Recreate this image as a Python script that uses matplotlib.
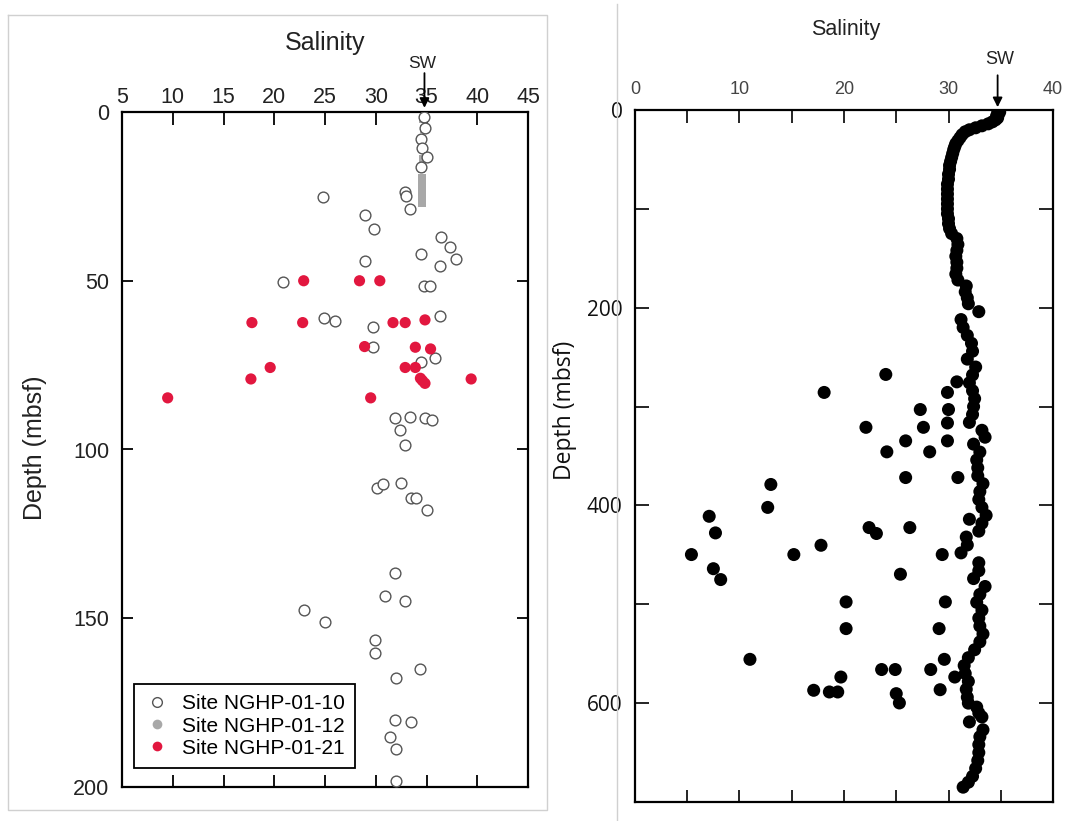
import matplotlib
matplotlib.use("Agg")
import matplotlib.pyplot as plt
from matplotlib.lines import Line2D

# ---------------- Left panel data (salinity, depth mbsf) ----------------
site10_sal = [34.8, 34.9, 34.5, 34.6, 35.0, 34.5, 24.8, 32.9, 33.0, 33.4, 28.9, 29.8,
              36.4, 37.3, 37.9, 36.3, 28.9, 34.5, 20.9, 34.8, 35.3, 36.3, 24.9, 26.0,
              29.7, 29.7, 34.5, 35.8, 31.9, 33.4, 34.85, 35.5, 32.4, 32.9, 32.5, 30.1,
              30.7, 33.5, 34.0, 35.0, 31.9, 30.9, 32.9, 22.9, 25.0, 29.9, 29.9, 34.4,
              32.0, 31.9, 33.5, 31.4, 32.0, 32.0]
site10_depth = [1.4, 4.8, 8.1, 10.6, 13.2, 16.4, 25.1, 23.6, 25.0, 28.8, 30.5, 34.7,
                37.0, 40.0, 43.6, 45.5, 44.2, 42.0, 50.4, 51.6, 51.6, 60.4, 61.1, 61.8,
                63.6, 69.5, 74.0, 72.8, 90.7, 90.3, 90.7, 91.3, 94.2, 98.7, 110.0, 111.5,
                110.3, 114.5, 114.5, 118.0, 136.7, 143.3, 145.0, 147.6, 151.2, 156.4, 160.4, 165.1,
                167.8, 180.1, 180.6, 185.3, 188.7, 198.2]

site12_sal = [34.6, 34.7, 34.6, 34.5, 34.6, 34.5, 34.55, 34.55, 34.55, 34.55, 34.55, 34.55, 34.5]
site12_depth = [2.0, 5.0, 8.0, 11.0, 14.0, 17.0, 19.5, 21.0, 22.5, 24.0, 25.5, 27.0, 42.3]

site21_sal = [22.9, 28.4, 30.4, 17.8, 22.8, 31.7, 32.9, 34.85, 28.9, 33.9, 35.4, 19.6,
              32.9, 33.9, 34.4, 34.85, 34.6, 17.7, 39.4, 9.5, 29.5]
site21_depth = [50.0, 50.0, 50.0, 62.4, 62.4, 62.4, 62.4, 61.6, 69.5, 69.7, 70.2, 75.7,
                75.7, 75.7, 78.9, 80.4, 79.6, 79.1, 79.1, 84.7, 84.7]

left_xticks = [5, 10, 15, 20, 25, 30, 35, 40, 45]
left_yticks = [0, 50, 100, 150, 200]
legend_labels = ["Site NGHP-01-10", "Site NGHP-01-12", "Site NGHP-01-21"]

# ---------------- Right panel data ----------------
prof_depth = [0, 2, 4, 6, 8, 10, 12, 14, 16, 18, 20, 22, 25, 28, 31, 34, 37, 40, 44, 48,
              52, 56, 60, 65, 70, 75, 80, 85, 90, 95, 100, 105, 110, 115, 120, 125, 130,
              136, 142, 148, 154, 160, 166, 172, 178, 184, 190, 196, 204, 212, 220, 228,
              236, 244, 252, 260, 268, 276, 284, 292, 300, 308, 316, 324, 331, 338, 346,
              354, 362, 370, 378, 386, 394, 402, 410, 414, 418, 426, 432, 440, 448, 458,
              466, 474, 482, 490, 498, 506, 514, 522, 530, 538, 546, 554, 562, 570, 578,
              586, 594, 600, 604, 610, 614, 619, 627, 634, 642, 650, 658, 666, 674, 680, 685]
prof_sal = [34.7, 34.9, 34.8, 34.6, 34.7, 34.5, 34.2, 33.8, 33.2, 32.6, 32.0, 31.6, 31.3,
            31.1, 30.9, 30.7, 30.6, 30.5, 30.4, 30.3, 30.2, 30.1, 30.1, 30.0, 30.0, 29.9,
            29.9, 29.9, 29.9, 29.9, 29.9, 29.9, 30.0, 30.0, 30.1, 30.3, 30.8, 30.9, 30.8,
            30.7, 30.8, 30.8, 30.7, 30.9, 31.7, 31.6, 31.8, 31.9, 32.9, 31.2, 31.4, 31.8,
            32.2, 32.3, 31.8, 32.6, 32.3, 32.0, 32.3, 32.5, 32.4, 32.3, 32.0, 33.2, 33.5,
            32.4, 33.0, 32.7, 32.8, 32.8, 33.3, 33.0, 32.9, 33.2, 33.6, 32.0, 33.2, 32.9,
            31.7, 31.8, 31.2, 32.9, 32.9, 32.4, 33.5, 33.0, 32.7, 33.2, 32.9, 33.0, 33.3,
            33.0, 32.5, 31.9, 31.5, 31.6, 31.9, 31.7, 31.8, 31.9, 32.7, 32.9, 33.2, 32.0,
            33.3, 33.0, 32.9, 32.9, 32.8, 32.6, 32.3, 31.9, 31.4]

scat_sal = [24.0, 18.1, 29.9, 30.8, 27.3, 30.0, 22.1, 27.6, 29.9, 25.9, 29.9, 24.1, 28.2,
            25.9, 30.9, 13.0, 12.7, 7.1, 7.7, 22.4, 23.1, 26.3, 17.8, 5.4, 15.2, 29.4, 7.5,
            8.2, 25.4, 20.2, 29.7, 20.2, 29.1, 11.0, 29.6, 23.6, 24.9, 28.3, 19.7, 30.6,
            17.1, 18.6, 19.4, 29.2, 25.0, 25.3]
scat_depth = [267.5, 285.7, 285.7, 275.0, 303.0, 303.0, 321.0, 321.0, 316.6, 334.7, 334.7,
              345.8, 345.8, 371.8, 371.8, 378.8, 402.0, 411.0, 427.8, 422.4, 428.4, 422.4,
              440.3, 449.7, 449.7, 449.7, 464.0, 475.0, 469.6, 497.6, 497.6, 524.6, 524.6,
              555.7, 555.7, 566.0, 566.0, 566.0, 573.6, 573.6, 587.0, 588.7, 588.7, 586.4,
              590.4, 599.8]

right_xticks = [0, 10, 20, 30, 40]
right_xminor = [5, 15, 25, 35]
right_yticks = [0, 200, 400, 600]
right_yminor = [100, 300, 500, 700]

SW_LEFT = 34.8
SW_RIGHT = 34.7

W, H = 1065, 821
ARIAL = "Liberation Sans"

fig = plt.figure(figsize=(W / 100, H / 100), dpi=100)
fig.patch.set_facecolor("white")


def fx(px):
    return px / W


def fy(py):
    return 1 - py / H


# grey frame artefacts
fig.add_artist(Line2D([fx(8), fx(547), fx(547), fx(8), fx(8)],
                      [fy(15), fy(15), fy(810), fy(810), fy(15)],
                      color="#d0d0d0", lw=1.0))
fig.add_artist(Line2D([fx(617), fx(617)], [fy(4), fy(821)], color="#d0d0d0", lw=1.0))

# ---------------- Left panel ----------------
ax1 = fig.add_axes([fx(122), fy(787), (528 - 122) / W, (787 - 112) / H])
ax1.scatter(site10_sal, site10_depth, s=60, facecolors="white", edgecolors="#555555",
            linewidths=1.0, zorder=3)
ax1.scatter(site12_sal, site12_depth, s=30, marker="s", color="#a8a8a8", edgecolors="none",
            zorder=2)
ax1.scatter(site21_sal, site21_depth, s=65, color="#e2173f", edgecolors="none", zorder=4)

ax1.set_xlim(5, 45)
ax1.set_ylim(200, 0)
ax1.set_xticks(left_xticks)
ax1.set_yticks(left_yticks)
ax1.xaxis.set_ticks_position("both")
ax1.yaxis.set_ticks_position("both")
ax1.tick_params(axis="x", direction="in", length=9, width=1.3, labeltop=True,
                labelbottom=False, pad=3, labelsize=15.5)
ax1.tick_params(axis="y", direction="in", length=8, width=1.3, pad=9, labelsize=15.5)
for lab in ax1.get_xticklabels() + ax1.get_yticklabels():
    lab.set_fontfamily(ARIAL)
    lab.set_color("#222222")
for sp in ax1.spines.values():
    sp.set_linewidth(1.6)

fig.text(fx(325), fy(43), "Salinity", ha="center", va="center", fontsize=18,
         family=ARIAL, color="#222222")
fig.text(fx(422), fy(64), "SW", ha="center", va="center", fontsize=12.5,
         family=ARIAL, color="#222222")
ax1.annotate("", xy=(SW_LEFT, 1.0), xycoords=ax1.get_xaxis_transform(),
             xytext=(0, 28), textcoords="offset points",
             arrowprops=dict(arrowstyle="-|>", lw=1.3, color="black",
                             mutation_scale=14, shrinkA=0, shrinkB=3))
fig.text(fx(35), fy(448), "Depth (mbsf)", ha="center", va="center", rotation=90,
         fontsize=18, family=ARIAL, color="#222222")

handles = [
    Line2D([], [], marker="o", ls="none", markersize=7, markerfacecolor="white",
           markeredgecolor="#555555", markeredgewidth=1.0),
    Line2D([], [], marker="o", ls="none", markersize=7, markerfacecolor="#a8a8a8",
           markeredgecolor="none"),
    Line2D([], [], marker="o", ls="none", markersize=7, markerfacecolor="#e2173f",
           markeredgecolor="none"),
]
leg = ax1.legend(handles, legend_labels, loc="lower left",
                 bbox_to_anchor=(0.03, 0.028), borderaxespad=0, frameon=True,
                 fancybox=False, edgecolor="black", framealpha=1,
                 prop={"family": ARIAL, "size": 15}, handletextpad=0.6,
                 handlelength=1.2, labelspacing=0.15, borderpad=0.5)
leg.get_frame().set_linewidth(1.3)

# ---------------- Right panel ----------------
ax2 = fig.add_axes([fx(635), fy(802), (1053 - 635) / W, (802 - 110) / H])
ax2.scatter(prof_sal, prof_depth, s=88, color="black", edgecolors="none", zorder=3)
ax2.scatter(scat_sal, scat_depth, s=88, color="black", edgecolors="none", zorder=3)
ax2.set_xlim(0, 40)
ax2.set_ylim(700, 0)
ax2.set_xticks(right_xticks)
ax2.set_xticks(right_xminor, minor=True)
ax2.set_yticks(right_yticks)
ax2.set_yticks(right_yminor, minor=True)
ax2.xaxis.set_ticks_position("both")
ax2.yaxis.set_ticks_position("both")
ax2.tick_params(axis="x", which="both", direction="in", length=9, width=1.2,
                labeltop=True, labelbottom=False, pad=9, labelsize=13)
ax2.tick_params(axis="y", which="both", direction="in", length=10, width=1.2, pad=9,
                labelsize=15)
for lab in ax2.get_xticklabels():
    lab.set_fontfamily(ARIAL)
    lab.set_color("#444444")
for lab in ax2.get_yticklabels():
    lab.set_fontfamily("Open Sans")
    lab.set_color("#111111")
for sp in ax2.spines.values():
    sp.set_linewidth(1.6)

fig.text(fx(846), fy(29), "Salinity", ha="center", va="center", fontsize=15.5,
         family=ARIAL, color="#222222")
fig.text(fx(1000), fy(60), "SW", ha="center", va="center", fontsize=13,
         family=ARIAL, color="#222222")
ax2.annotate("", xy=(SW_RIGHT, 1.0), xycoords=ax2.get_xaxis_transform(),
             xytext=(0, 25), textcoords="offset points",
             arrowprops=dict(arrowstyle="-|>", lw=1.3, color="black",
                             mutation_scale=14, shrinkA=0, shrinkB=2))
fig.text(fx(565), fy(410), "Depth (mbsf)", ha="center", va="center", rotation=90,
         fontsize=16.5, family="Open Sans", color="#111111")

fig.savefig("out.png", dpi=100, facecolor="white")
